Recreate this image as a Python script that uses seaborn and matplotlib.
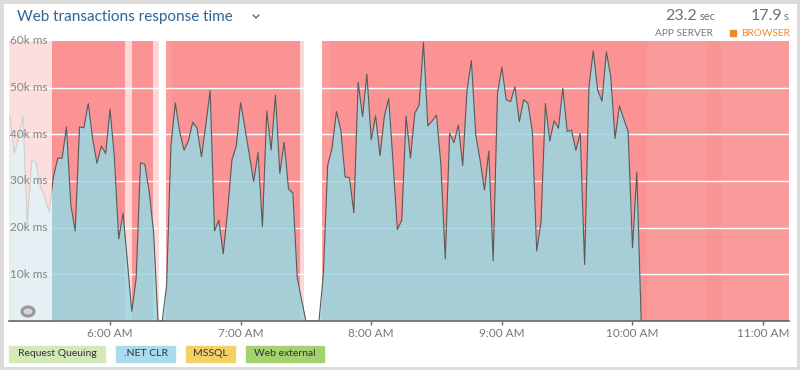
import numpy as np
import pandas as pd
import matplotlib
matplotlib.use('Agg')
import matplotlib.pyplot as plt
from matplotlib.patches import Rectangle, Ellipse
import seaborn as sns

sns.set_theme(style="white")
plt.rcParams['font.family'] = ['Lato', 'DejaVu Sans']

# .NET CLR response time (k ms), one sample every 2 minutes starting 05:14
faded_k = [44, 36, 39, 44, 20.6, 34.5, 34, 28.8, 26.6, 23.4]
clr_k = [30.9, 34.9, 34.9, 41.6, 24.9, 19.3, 41.6, 41.4, 46.6, 39.1,
         33.8, 37.5, 35.9, 45.4, 35.2, 17.6, 23.1, 12.7, 2.1, 9.1,
         33.9, 33.6, 27.7, 19.1, 0.2, 0, 7.7, 37.7, 46.7, 40.6,
         36.6, 38.6, 42.6, 41.3, 35.2, 42, 49.4, 19.3, 21.6, 14.4,
         23.5, 34.5, 37.5, 46.8, 41.3, 35.6, 29.9, 36.1, 20.2, 45,
         36.6, 48.4, 31.6, 38.3, 28.3, 27.4, 9.3, 4.5, 0, 0,
         0, 0, 10, 33.4, 37, 44.9, 40.9, 30.9, 30.7, 23.2,
         51.1, 43.8, 52.9, 38.8, 44, 35.4, 43.8, 47.7, 34.1, 19.6,
         21.6, 43.9, 34.9, 44.5, 46.3, 59.7, 41.8, 42.9, 44.1, 33.4,
         13.3, 40.2, 38.2, 42, 33.3, 49.5, 55.8, 39.9, 34.5, 28.1,
         36.4, 12.9, 48.8, 54.4, 47.4, 47, 50.2, 42.7, 47.4, 46.6,
         40.6, 15, 21.3, 46.6, 38.6, 42.9, 41.3, 49.9, 40.6, 40.9,
         36.6, 40.2, 12.1, 50.2, 57.9, 49.5, 47.1, 57.7, 52.4, 39.1,
         46.1, 43.3, 40.6, 15.7, 31.8, 0]
idle_k = [0] * 34

values = np.array(faded_k + clr_k + idle_k) * 1000
times = pd.date_range('2024-01-01 05:14', periods=len(values), freq='2min')
df = pd.DataFrame({'time': times, 'ms': values})

# highlighted (browser) period and its variations
red_start = '05:33.4'
red_bands = [('05:13.6', '10:06.7', '#fb9293'),
             ('10:06.7', '11:12', '#fa9b9b'),
             ('10:34.3', '10:40.7', '#f99494'),
             ('06:25.7', '06:28.5', '#fc9b9b'),
             ('07:37.4', '07:41.1', '#fc9c9c')]
pale_bands = [('06:06.9', '06:10.1', 0.65), ('06:19.8', '06:22.5', 0.65),
              ('06:22.5', '06:25.7', 1.0), ('07:27.3', '07:29.1', 0.65),
              ('07:29.1', '07:37.4', 1.0)]

y_ticks = [10000, 20000, 30000, 40000, 50000, 60000]
y_labels = ['10k ms', '20k ms', '30k ms', '40k ms', '50k ms', '60k ms']
x_ticks = ['06:00', '07:00', '08:00', '09:00', '10:00', '11:00']
x_labels = ['6:00 AM', '7:00 AM', '8:00 AM', '9:00 AM', '10:00 AM', '11:00 AM']

legend_items = [('Request Queuing', '#d5e8b8', 9, 105),
                ('.NET CLR', '#a8dcec', 116, 175),
                ('MSSQL', '#f3d165', 186, 235),
                ('Web external', '#a4d26f', 246, 324)]


def t(hm):
    h, m = hm.split(':')
    return pd.Timestamp('2024-01-01') + pd.Timedelta(hours=int(h), minutes=float(m))


def px(x, y):
    return x / 800, 1 - y / 370


fig = plt.figure(figsize=(8, 3.7), dpi=100, facecolor='white')
ax = fig.add_axes([9 / 800, 49 / 370, 780 / 800, 280 / 370])
ax.set_facecolor('white')
xmin, xmax = t('05:13.6'), t('11:11.9')

for a, b, c in red_bands:
    ax.axvspan(t(a), t(b), color=c, lw=0, zorder=0)
for a, b, al in pale_bands:
    ax.axvspan(t(a), t(b), color='white', alpha=al, lw=0, zorder=0.5)

for v in y_ticks[:-1]:
    ax.axhline(v, color='white', lw=1, zorder=1)

ax.fill_between(df['time'], df['ms'], color='#99d8e4', alpha=0.85, lw=0, zorder=2)
sns.lineplot(data=df, x='time', y='ms', color='#5a5a5a', lw=0.8, ax=ax, zorder=3)

# faded part before the selected window
ax.axvspan(xmin, t(red_start), color='white', alpha=0.7, lw=0, zorder=4)

ax.set_xlim(xmin, xmax)
ax.set_ylim(0, 60000)
ax.set_yticks([])
ax.set_xlabel('')
ax.set_ylabel('')
ax.set_xticks([t(s) for s in x_ticks])
ax.set_xticklabels(x_labels)
ax.tick_params(axis='x', bottom=True, length=3, width=1, color='#666666',
               labelcolor='#777777', labelsize=8.5, pad=2)
for s in ['top', 'right', 'left']:
    ax.spines[s].set_visible(False)
ax.spines['bottom'].set_color('#6a6a6a')
ax.spines['bottom'].set_linewidth(1.2)
ax.spines['bottom'].set_zorder(5)

ytr = ax.get_yaxis_transform()
for v, lab in zip(y_ticks, y_labels):
    ax.text(0.0015, v, lab, transform=ytr, ha='left', va='center',
            fontsize=8.5, color='#858585', zorder=6)

# eye icon
ax.add_patch(Ellipse((0.0244, 0.034), 12 / 780, 9 / 280, transform=ax.transAxes,
                     facecolor='#d6d6d6', edgecolor='#999999', lw=2.2, zorder=6))

# header
fig.text(*px(17, 17), 'Web transactions response time', fontsize=11,
         color='#2f6490', va='center', ha='left')
fig.lines.append(plt.Line2D([253 / 800, 256 / 800, 259 / 800],
                            [1 - 15 / 370, 1 - 18 / 370, 1 - 15 / 370],
                            transform=fig.transFigure, color='#2f6490', lw=0.9))
fig.text(*px(697, 16), '23.2', fontsize=11.5, color='#707070', va='center', ha='right')
fig.text(*px(700, 17), 'sec', fontsize=8, color='#707070', va='center', ha='left')
fig.text(*px(782, 16), '17.9', fontsize=11.5, color='#707070', va='center', ha='right')
fig.text(*px(784, 17), 's', fontsize=8, color='#707070', va='center', ha='left')
fig.text(*px(713, 33), 'APP SERVER', fontsize=7.3, color='#777777', va='center', ha='right')
fig.patches.append(Rectangle(px(730, 36), 6 / 800, 6 / 370, transform=fig.transFigure,
                             color='#f0882a'))
fig.text(*px(790, 33), 'BROWSER', fontsize=7.3, color='#f0882a', va='center', ha='right')

# legend buttons
for lab, col, x0, x1 in legend_items:
    fig.patches.append(Rectangle(px(x0, 362), (x1 - x0) / 800, 16 / 370,
                                 transform=fig.transFigure, color=col))
    fig.text(*px((x0 + x1) / 2, 354), lab, fontsize=7.5, color='#333333',
             va='center', ha='center')

fig.patches.append(Rectangle((0, 0), 1, 1, transform=fig.transFigure, fill=False,
                             edgecolor='#dcdcdc', lw=5))

fig.savefig('out.png', dpi=100)
